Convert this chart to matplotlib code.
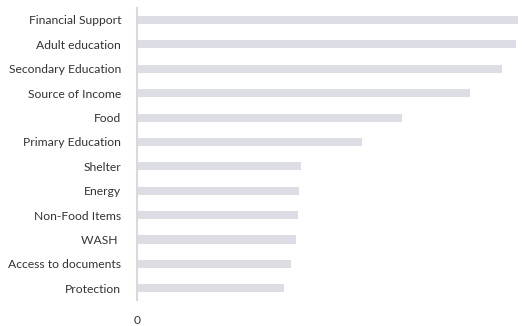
import matplotlib
matplotlib.use("Agg")
import matplotlib.pyplot as plt

categories = ["Financial Support", "Adult education", "Secondary Education", "Source of Income",
              "Food", "Primary Education", "Shelter", "Energy", "Non-Food Items", "WASH ",
              "Access to documents", "Protection"]
values = [381, 379, 365, 333, 265, 225, 164, 162, 161, 159, 154, 147]

plt.rcParams['font.family'] = ['Lato', 'DejaVu Sans']

W, H = 522, 326
fig = plt.figure(figsize=(W/100, H/100), dpi=100)
ax = fig.add_axes([137/W, 1-300/H, (519-137)/W, (300-8)/H])

pos = list(range(len(categories)))
ax.barh(pos, values, height=0.33, color="#DDDDE5")
ax.set_ylim(11.48, -0.49)
ax.set_xlim(0, 382)
ax.set_yticks(pos)
ax.set_yticklabels(categories, fontsize=8.7, color="#333333")
ax.set_xticks([0])
ax.set_xticklabels(["0"], fontsize=8.7, color="#333333")
ax.tick_params(axis='y', length=0, pad=11.5)
ax.tick_params(axis='x', length=0, pad=11)
for s in ["top", "right", "bottom"]:
    ax.spines[s].set_visible(False)
ax.spines["left"].set_color("#D9D9D9")
ax.spines["left"].set_linewidth(1.5)

fig.savefig("out.png", dpi=100)
